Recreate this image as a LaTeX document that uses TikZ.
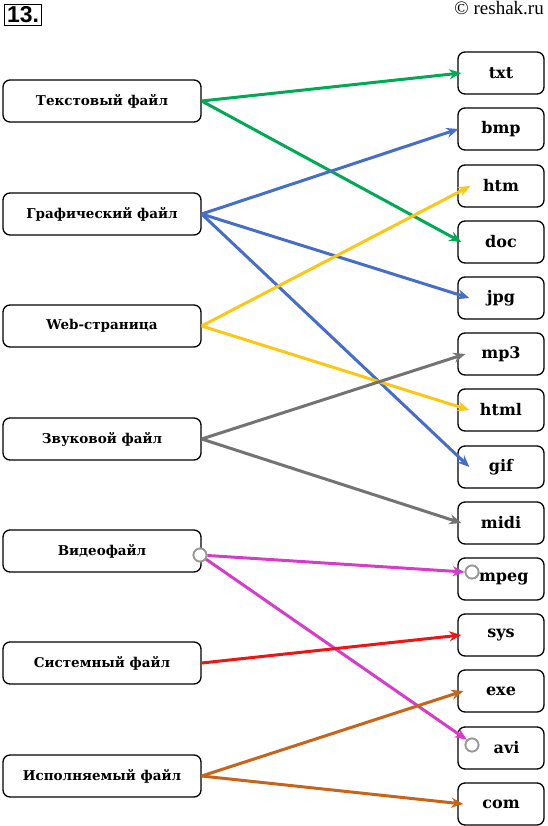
\documentclass[tikz,border=0pt]{standalone}
\usepackage{fontspec}
\setmainfont{Liberation Serif}
\newfontfamily\boxfont{DejaVu Serif}
\newfontfamily\titlefont{Liberation Sans}
\usetikzlibrary{arrows.meta}
\definecolor{cgreen}{RGB}{0,170,85}
\definecolor{cblue}{RGB}{70,110,200}
\definecolor{cyellow}{RGB}{250,200,20}
\definecolor{cgray}{RGB}{115,115,115}
\definecolor{cmag}{RGB}{215,60,200}
\definecolor{cred}{RGB}{240,20,20}
\definecolor{corange}{RGB}{200,100,25}
\tikzset{
  lbox/.style={draw, line width=1.3pt, rounded corners=7pt, minimum width=198pt, minimum height=42pt, font=\boxfont\bfseries\fontsize{13.5}{16}\selectfont, inner sep=0pt},
  rbox/.style={draw, line width=1.3pt, rounded corners=7pt, minimum width=86pt, minimum height=42pt, font=\boxfont\bfseries\fontsize{16}{18}\selectfont, inner sep=0pt},
  link/.style={line width=3pt, -{Stealth[length=12pt,width=10pt]}},
  ring/.style={circle, draw=gray!80, line width=1.8pt, fill=white, minimum size=13pt, inner sep=0pt}
}
\begin{document}
\begin{tikzpicture}[x=1pt,y=-1pt]
\useasboundingbox (0,0) rectangle (547,826);
% title
\node[draw, line width=1.2pt, inner sep=1.5pt, minimum width=37pt, minimum height=21pt, font=\titlefont\bfseries\fontsize{23}{24}\selectfont] (num) at (23,15) {13.};
\node[anchor=north east, font=\fontsize{19}{21}\selectfont, inner sep=0pt] (copy) at (544,1) {© reshak.ru};
% left boxes
\node[lbox] (tf) at (102,101) {Текстовый\ файл};
\node[lbox] (gf) at (102,214) {Графический\ файл};
\node[lbox] (web) at (102,326) {Web-страница};
\node[lbox] (zf) at (102,439) {Звуковой\ файл};
\node[lbox] (vf) at (102,551) {Видеофайл};
\node[lbox] (sf) at (102,663) {Системный\ файл};
\node[lbox] (ef) at (102,776) {Исполняемый\ файл};
% right boxes
\node[rbox] (txt) at (501,73) {txt};
\node[rbox] (bmp) at (501,129) {bmp};
\node[rbox] (htm) at (501,186) {htm};
\node[rbox] (doc) at (501,242) {doc};
\node[rbox] (jpg) at (501,298) {jpg};
\node[rbox] (mp3) at (501,354) {mp3};
\node[rbox] (html) at (501,410) {html};
\node[rbox] (gif) at (501,467) {gif};
\node[rbox] (midi) at (501,523) {midi};
\node[rbox] (mpeg) at (501,579) {\ mpeg};
\node[rbox] (sys) at (501,635) {sys};
\node[rbox] (exe) at (501,691) {exe};
\node[rbox] (avi) at (501,748) {\ \ avi};
\node[rbox] (com) at (501,804) {com};
% rings
\node[ring] (r0) at (200,555) {};
\node[ring] (r1) at (472,572) {};
\node[ring] (r2) at (472,745) {};
% links
\draw[link, cgreen] (tf.east) -- ([xshift=4pt]txt.west);
\draw[link, cgreen] (tf.east) -- ([xshift=4pt]doc.west);
\draw[link, cblue] (gf.east) -- ([xshift=1pt]bmp.west);
\draw[link, cblue] (gf.east) -- ([xshift=12pt]jpg.west);
\draw[link, cblue] (gf.east) -- ([xshift=12pt]gif.west);
\draw[link, cyellow] (web.east) -- ([xshift=13pt]htm.west);
\draw[link, cyellow] (web.east) -- ([xshift=12pt]html.west);
\draw[link, cgray] (zf.east) -- ([xshift=8pt]mp3.west);
\draw[link, cgray] (zf.east) -- ([xshift=4pt]midi.west);
\draw[link, cmag] (r0) -- (r1.west);
\draw[link, cmag] (r0) -- (r2.north west);
\draw[link, cred] (sf.east) -- ([xshift=4pt]sys.west);
\draw[link, corange] (ef.east) -- ([xshift=6pt]exe.west);
\draw[link, corange] (ef.east) -- ([xshift=6pt]com.west);
% redraw rings on top
\node[ring] at (r0) {};
\node[ring] at (r1) {};
\node[ring] at (r2) {};
\end{tikzpicture}
\end{document}
